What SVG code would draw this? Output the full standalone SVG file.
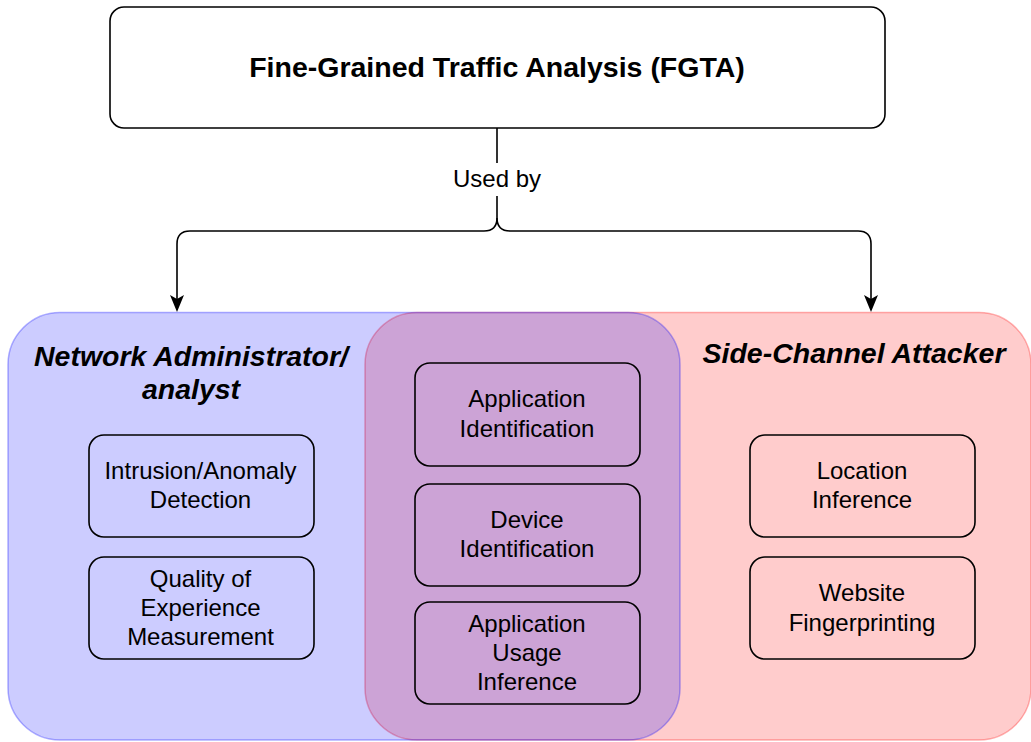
<svg xmlns="http://www.w3.org/2000/svg" width="1031" height="742" viewBox="0 0 1031 742">
<style>
text{font-family:"Liberation Sans",Arial,Helvetica,sans-serif;text-anchor:middle;fill:#000}
.t{font-size:24px}
.h{font-size:28.5px;font-weight:bold;font-style:italic}
.box{fill:none;stroke:#000;stroke-width:1.6}
.conn{fill:none;stroke:#000;stroke-width:1.6}
</style>
<rect width="1031" height="742" fill="#fff"/>
<g id="fgta">
<rect x="110" y="7" width="775" height="121" rx="14" fill="#fff" stroke="#000" stroke-width="1.6"/>
<text x="497" y="77" style="font-size:28.5px;font-weight:bold">Fine-Grained Traffic Analysis (FGTA)</text>
</g>
<g id="connectors">
<path class="conn" d="M497,128 V163 M497,196 V218 Q497,231 484,231 H190 Q177,231 177,244 V300"/>
<path class="conn" d="M497,218 Q497,231 510,231 H858 Q871,231 871,244 V300"/>
<path d="M177,312 L170,295 L177,299 L184,295 Z" fill="#000"/>
<path d="M871,312 L864,295 L871,299 L878,295 Z" fill="#000"/>
<text class="t" x="497" y="187">Used by</text>
</g>
<g id="attacker">
<rect x="365" y="312.5" width="666" height="427.5" rx="52" fill="#ffcccc" stroke="#ff0000" stroke-opacity="0.3" stroke-width="1.5"/>
</g>
<g id="admin">
<rect x="8" y="312.5" width="672" height="427.5" rx="52" fill="#0000ff" fill-opacity="0.2" stroke="#0000ff" stroke-opacity="0.3" stroke-width="1.5"/>
<text class="h" x="191" y="366">Network Administrator/</text>
<text class="h" x="191" y="399">analyst</text>
</g>
<text class="h" x="854" y="363">Side-Channel Attacker</text>
<g id="intrusion">
<rect class="box" x="89" y="435" width="225" height="102" rx="15"/>
<text class="t" x="200.5" y="479">Intrusion/Anomaly</text>
<text class="t" x="200.5" y="508">Detection</text>
</g>
<g id="qoe">
<rect class="box" x="89" y="557" width="225" height="102" rx="15"/>
<text class="t" x="200.5" y="587">Quality of</text>
<text class="t" x="200.5" y="616">Experience</text>
<text class="t" x="200.5" y="645">Measurement</text>
</g>
<g id="appid">
<rect class="box" x="415" y="363" width="225" height="103" rx="15"/>
<text class="t" x="527" y="407">Application</text>
<text class="t" x="527" y="437">Identification</text>
</g>
<g id="devid">
<rect class="box" x="415" y="484" width="225" height="102" rx="15"/>
<text class="t" x="527" y="528">Device</text>
<text class="t" x="527" y="557">Identification</text>
</g>
<g id="appusage">
<rect class="box" x="415" y="602" width="225" height="102" rx="15"/>
<text class="t" x="527" y="632">Application</text>
<text class="t" x="527" y="661">Usage</text>
<text class="t" x="527" y="690">Inference</text>
</g>
<g id="location">
<rect class="box" x="750" y="435" width="225" height="102" rx="15"/>
<text class="t" x="862" y="479">Location</text>
<text class="t" x="862" y="508">Inference</text>
</g>
<g id="website">
<rect class="box" x="750" y="557" width="225" height="102" rx="15"/>
<text class="t" x="862" y="601">Website</text>
<text class="t" x="862" y="631">Fingerprinting</text>
</g>
</svg>
